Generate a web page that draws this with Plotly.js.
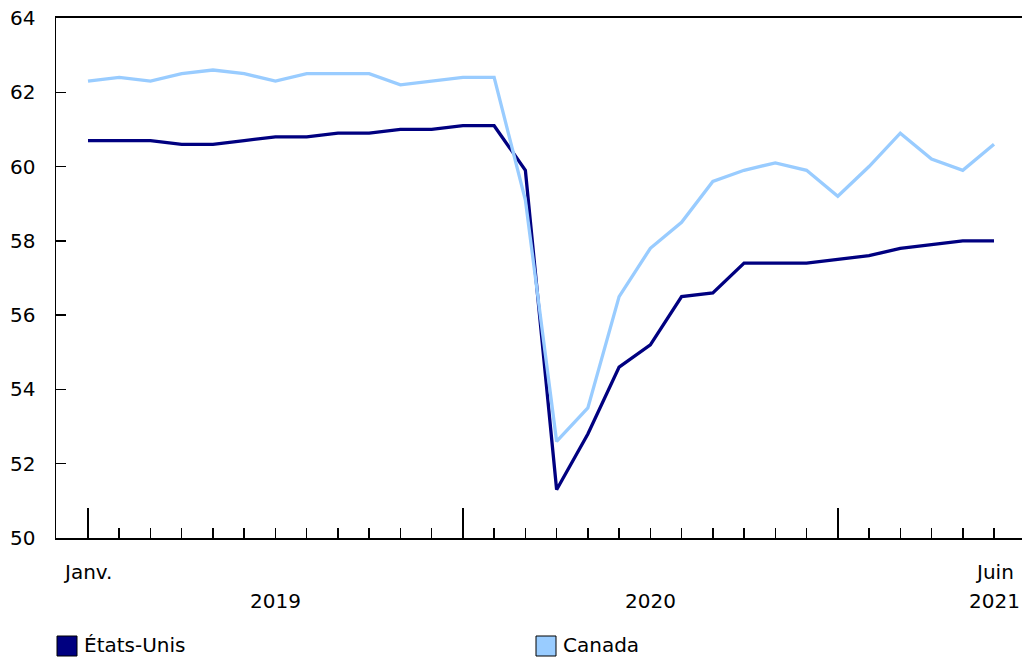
<!DOCTYPE html>
<html>
<head>
<meta charset="utf-8">
<script src="https://cdn.plot.ly/plotly-3.0.1.min.js"></script>
<style>html,body{margin:0;padding:0;background:#fff;}#chart{width:1022px;height:658px;}</style>
</head>
<body>
<div id="chart"></div>
<script>
// Months Jan 2019 .. Jun 2021 (index 0..29)
var months = ["2019-01","2019-02","2019-03","2019-04","2019-05","2019-06","2019-07","2019-08","2019-09","2019-10","2019-11","2019-12",
              "2020-01","2020-02","2020-03","2020-04","2020-05","2020-06","2020-07","2020-08","2020-09","2020-10","2020-11","2020-12",
              "2021-01","2021-02","2021-03","2021-04","2021-05","2021-06"];
var etatsUnis = [60.7,60.7,60.7,60.6,60.6,60.7,60.8,60.8,60.9,60.9,61.0,61.0,
                 61.1,61.1,59.9,51.3,52.8,54.6,55.2,56.5,56.6,57.4,57.4,57.4,
                 57.5,57.6,57.8,57.9,58.0,58.0];
var canada =    [62.3,62.4,62.3,62.5,62.6,62.5,62.3,62.5,62.5,62.5,62.2,62.3,
                 62.4,62.4,59.1,52.6,53.5,56.5,57.8,58.5,59.6,59.9,60.1,59.9,
                 59.2,60.0,60.9,60.2,59.9,60.6];
var seriesNames = ["États-Unis", "Canada"];
var monthLabels = [{idx: 0, text: "Janv."}, {idx: 29, text: "Juin"}];
var yearLabels = [{idx: 6, text: "2019"}, {idx: 18, text: "2020"}, {idx: 29, text: "2021"}];
var yearStarts = [0, 12, 24];
var yTicks = [50, 52, 54, 56, 58, 60, 62, 64];

var colUS = "#000080", colCA = "#99ccff";
var xs = months.map(function(m, i){ return i; });

var L = 56, T = 18, W = 1022, H = 658, plotW = 1022 - L, plotH = 520;
function pxX(px){ return (px - L) / plotW; }
function pxY(py){ return (T + plotH - py) / plotH; }

var font = {family: "DejaVu Sans, Verdana, sans-serif", size: 20, color: "#000"};

var traces = [
  {x: xs, y: etatsUnis, name: seriesNames[0], mode: "lines", line: {color: colUS, width: 3.3}, hoverinfo: "y"},
  {x: xs, y: canada, name: seriesNames[1], mode: "lines", line: {color: colCA, width: 3.3}, hoverinfo: "y"}
];

var annotations = [];
monthLabels.forEach(function(l){
  annotations.push({x: l.idx, xref: "x", y: pxY(572), yref: "paper", text: l.text, showarrow: false, xanchor: "center", yanchor: "middle", font: font});
});
yearLabels.forEach(function(l){
  annotations.push({x: l.idx, xref: "x", y: pxY(601), yref: "paper", text: l.text, showarrow: false, xanchor: "center", yanchor: "middle", font: font});
});
var legendX = [57, 536];
var shapes = [];
[colUS, colCA].forEach(function(c, i){
  shapes.push({type: "rect", xref: "paper", yref: "paper", x0: pxX(legendX[i]), x1: pxX(legendX[i] + 20), y0: pxY(636), y1: pxY(656),
               fillcolor: c, line: {color: "#000", width: 1}});
  annotations.push({x: pxX(legendX[i] + 25), xref: "paper", y: pxY(645), yref: "paper", text: seriesNames[i], showarrow: false,
                    xanchor: "left", yanchor: "middle", font: font});
});

var layout = {
  width: W, height: H,
  margin: {l: L, r: 0, t: T, b: H - T - plotH, pad: 0},
  paper_bgcolor: "#fff", plot_bgcolor: "#fff",
  showlegend: false,
  font: font,
  xaxis: {
    range: [-1.024, 29.896], showgrid: false, zeroline: false,
    showline: true, linecolor: "#000", linewidth: 2, mirror: true,
    tickmode: "array", tickvals: yearStarts, ticks: "inside", ticklen: 30, tickwidth: 1.5, tickcolor: "#000",
    showticklabels: false,
    minor: {tickmode: "linear", tick0: 0, dtick: 1, ticks: "inside", ticklen: 10, tickwidth: 1.5, tickcolor: "#000", showgrid: false}
  },
  yaxis: {
    range: [50, 64], showgrid: false, zeroline: false,
    showline: true, linecolor: "#000", linewidth: 1.5,
    tickmode: "array", tickvals: yTicks, ticks: "inside", ticklen: 10, tickwidth: 1.5, tickcolor: "#000",
    ticklabelstandoff: 15, tickfont: font
  },
  annotations: annotations,
  shapes: shapes
};

Plotly.newPlot("chart", traces, layout, {displayModeBar: false, staticPlot: true});
</script>
</body>
</html>
